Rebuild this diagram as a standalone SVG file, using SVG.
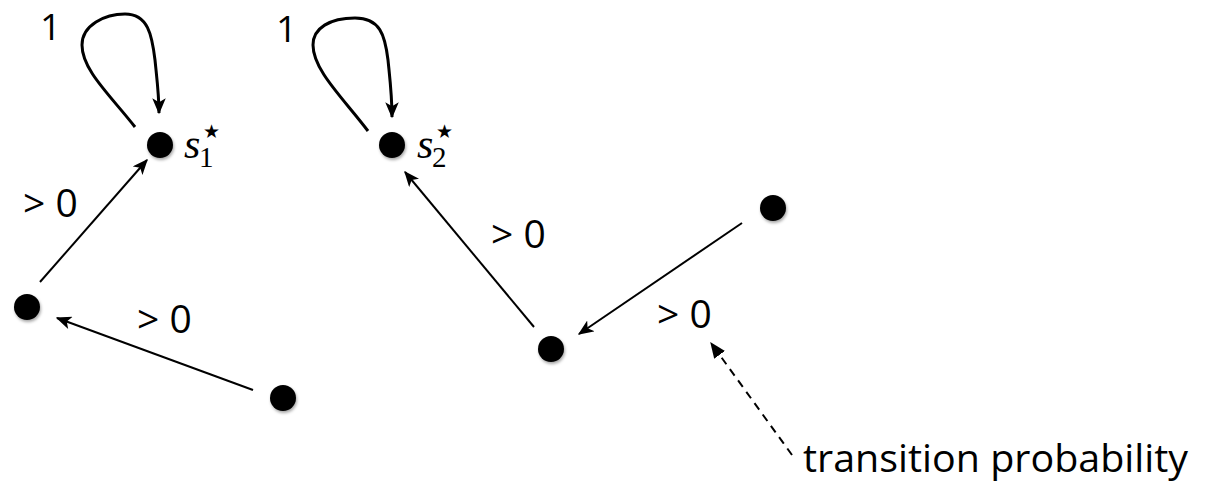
<svg xmlns="http://www.w3.org/2000/svg" width="1231" height="484" viewBox="0 0 1231 484">
<style>
.node{fill:#000;filter:url(#sh)}
.edge{fill:none;stroke:#000;stroke-width:2;marker-end:url(#ah)}
.loop{fill:none;stroke:#000;stroke-width:3;marker-end:url(#ahl)}
.dash{fill:none;stroke:#000;stroke-width:2;stroke-dasharray:8,6;marker-end:url(#ahd)}
.lbl{font-family:"Open Sans","Liberation Sans",sans-serif;font-size:39px;fill:#000}
.one{font-family:"Open Sans","Liberation Sans",sans-serif;font-size:37px;fill:#000}
.math{font-family:"Liberation Serif","DejaVu Serif",serif;fill:#000}
.star{font-family:"DejaVu Sans",sans-serif;fill:#000}
</style>
<defs>
<filter id="sh" x="-50%" y="-50%" width="200%" height="200%"><feDropShadow dx="1" dy="2" stdDeviation="1.5" flood-opacity="0.35"/></filter>
<marker id="ah" viewBox="0 0 12 10" refX="11" refY="5" markerWidth="8" markerHeight="6.5" orient="auto" markerUnits="strokeWidth"><path d="M0,0 L12,5 L0,10 L3,5 z" fill="#000"/></marker>
<marker id="ahl" viewBox="0 0 12 10" refX="11" refY="5" markerWidth="5.5" markerHeight="4.5" orient="auto" markerUnits="strokeWidth"><path d="M0,0 L12,5 L0,10 L3,5 z" fill="#000"/></marker>
<marker id="ahd" viewBox="0 0 12 10" refX="11" refY="5" markerWidth="8" markerHeight="7" orient="auto" markerUnits="strokeWidth"><path d="M0,0 L12,5 L0,10 z" fill="#000"/></marker>
</defs>
<g id="connectors">
<path class="loop" d="M135,127 C110,95 82,70 82,45 C82,25 105,14 125,14 C148,14 152,35 155,60 C157,80 159,95 159,113"/>
<path class="loop" d="M368,131 C343,98 313,70 313,45 C313,28 330,18 355,18 C380,18 385,35 388,60 C390,80 392,95 392,117"/>
<path class="edge" d="M40,282 L147,160"/>
<path class="edge" d="M253,390 L57,318"/>
<path class="edge" d="M534,327 L405,172"/>
<path class="edge" d="M742,223 L579,334"/>
<path class="dash" d="M792,455 L711,343"/>
</g>
<g id="s1"><circle class="node" cx="160" cy="145" r="13"/>
<text class="math" x="184" y="158" font-size="42" font-style="italic">s</text><text class="math" x="199" y="167" font-size="29">1</text><text class="star" x="203" y="138" font-size="19">★</text></g>
<g id="s2"><circle class="node" cx="392" cy="145" r="13"/>
<text class="math" x="417" y="158" font-size="42" font-style="italic">s</text><text class="math" x="432" y="167" font-size="29">2</text><text class="star" x="436" y="138" font-size="19">★</text></g>
<g id="n1"><circle class="node" cx="27" cy="307" r="13"/></g>
<g id="n2"><circle class="node" cx="283" cy="398" r="13"/></g>
<g id="n3"><circle class="node" cx="551" cy="349" r="13"/></g>
<g id="n4"><circle class="node" cx="773" cy="208" r="13"/></g>
<g id="labels">
<text class="one" x="40" y="40">1</text>
<text class="one" x="276" y="42">1</text>
<text class="lbl" x="23" y="217">&gt; 0</text>
<text class="lbl" x="137" y="333">&gt; 0</text>
<text class="lbl" x="491" y="248">&gt; 0</text>
<text class="lbl" x="657" y="328">&gt; 0</text>
<text class="lbl" x="803" y="472" textLength="385" lengthAdjust="spacingAndGlyphs">transition probability</text>
</g>
</svg>
